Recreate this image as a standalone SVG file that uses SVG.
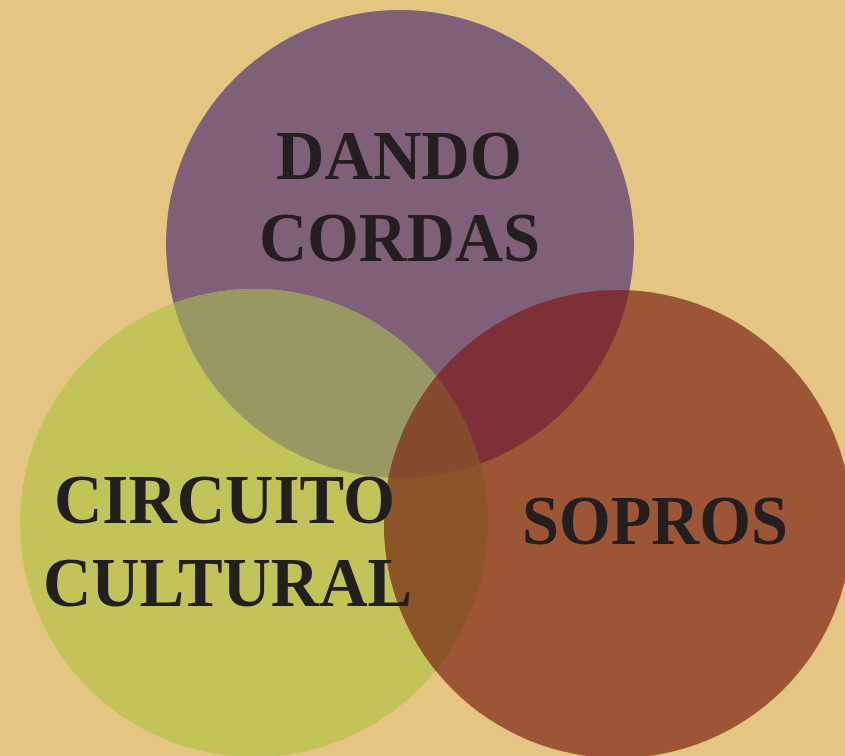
<svg xmlns="http://www.w3.org/2000/svg" width="845" height="756" viewBox="0 0 845 756">
  <style>
    .lbl { font-family: "Liberation Serif", "Times New Roman", serif; font-weight: bold; font-size: 69px; fill: #231F20; text-anchor: middle; }
  </style>
  <defs>
    <clipPath id="cpP"><circle cx="400" cy="244" r="234"/></clipPath>
    <clipPath id="cpG"><circle cx="254" cy="523" r="234"/></clipPath>
  </defs>
  <rect x="0" y="0" width="845" height="756" fill="#E4C682"/>
  <g id="dando-cordas">
    <circle cx="400" cy="244" r="234" fill="#805F79"/>
  </g>
  <g id="circuito-cultural">
    <circle cx="254" cy="523" r="234" fill="#C3C458"/>
  </g>
  <g id="sopros">
    <circle cx="618" cy="524" r="234" fill="#9C5535"/>
  </g>
  <g id="overlaps">
    <circle cx="254" cy="523" r="234" fill="#999762" clip-path="url(#cpP)"/>
    <circle cx="618" cy="524" r="234" fill="#7D3037" clip-path="url(#cpP)"/>
    <circle cx="618" cy="524" r="234" fill="#8C5428" clip-path="url(#cpG)"/>
    <g clip-path="url(#cpP)">
      <circle cx="618" cy="524" r="234" fill="#864B2C" clip-path="url(#cpG)"/>
    </g>
  </g>
  <g id="labels">
    <text class="lbl" x="399" y="179" textLength="246" lengthAdjust="spacingAndGlyphs">DANDO</text>
    <text class="lbl" x="399.5" y="261" textLength="281" lengthAdjust="spacingAndGlyphs">CORDAS</text>
    <text class="lbl" x="224.5" y="523" textLength="341" lengthAdjust="spacingAndGlyphs">CIRCUITO</text>
    <text class="lbl" x="227.5" y="606" textLength="369" lengthAdjust="spacingAndGlyphs">CULTURAL</text>
    <text class="lbl" x="655" y="544" textLength="266" lengthAdjust="spacingAndGlyphs">SOPROS</text>
  </g>
</svg>
